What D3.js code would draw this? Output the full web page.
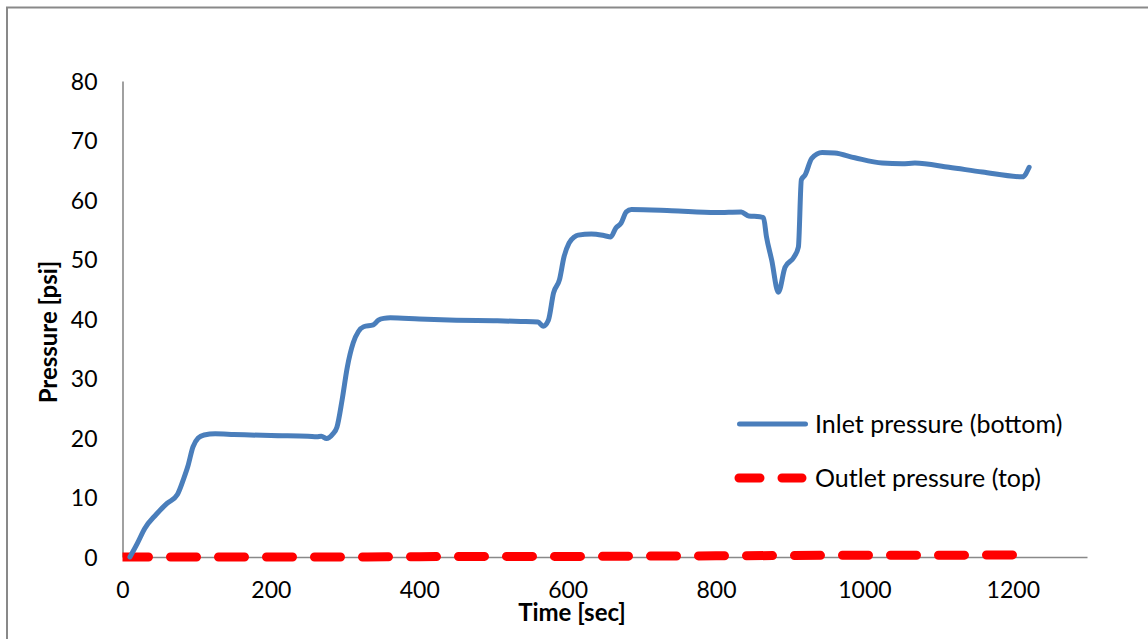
<!DOCTYPE html>
<html>
<head>
<meta charset="utf-8">
<script src="https://cdn.jsdelivr.net/npm/d3@7"></script>
<style>
  html, body { margin: 0; padding: 0; background: #fff; }
  svg { display: block; }
  text { font-family: Lato, "Open Sans", sans-serif; }
</style>
</head>
<body>
<svg id="chart" width="1148" height="639"></svg>
<script>
// ---- data ----
const inletTime = [10, 20, 30, 45, 60, 74, 82, 88, 95, 102, 110, 125, 150, 200, 250, 262, 268, 275, 283, 289, 296, 303, 311, 318, 325, 338, 345, 352, 361, 400, 450, 500, 537, 560, 567, 574, 581, 589, 595, 602, 609, 614, 632, 650, 658, 665, 672, 679, 686, 740, 800, 834, 844, 859, 864, 868, 875, 884, 893, 905, 911, 915, 920, 929, 943, 960, 987, 1024, 1051, 1068, 1114, 1159, 1213, 1222];
const inletPressure = [0, 2.3, 4.8, 7.1, 9.0, 10.5, 13.0, 15.2, 18.5, 20.0, 20.5, 20.7, 20.6, 20.4, 20.3, 20.2, 20.3, 19.9, 20.6, 21.8, 26.4, 31.9, 36.0, 37.9, 38.7, 39.0, 39.8, 40.1, 40.2, 40.0, 39.8, 39.7, 39.6, 39.5, 38.8, 39.8, 44.4, 46.6, 50.4, 52.8, 53.8, 54.1, 54.3, 54.0, 53.8, 55.3, 56.1, 58.0, 58.4, 58.2, 57.9, 58.0, 57.3, 57.2, 57.0, 53.8, 49.9, 44.5, 48.7, 50.4, 52.1, 63.4, 64.2, 67.0, 68.0, 67.9, 67.1, 66.2, 66.1, 66.2, 65.5, 64.7, 63.9, 65.5];
const outletTime = [0, 100, 200, 300, 400, 500, 600, 700, 800, 900, 1000, 1100, 1200, 1218];
const outletPressure = [0, 0, 0, 0, 0.05, 0.1, 0.1, 0.15, 0.2, 0.25, 0.3, 0.3, 0.35, 0.35];
const xTicks = [0, 200, 400, 600, 800, 1000, 1200];
const yTicks = [0, 10, 20, 30, 40, 50, 60, 70, 80];
const seriesNames = ["Inlet pressure (bottom)", "Outlet pressure (top)"];
const xTitle = "Time [sec]";
const yTitle = "Pressure [psi]";

// ---- layout ----
const svg = d3.select("#chart");
const mLeft = 122.5, mRight = 1087, mTop = 81, mBottom = 557;
const x = d3.scaleLinear().domain([0, 1300]).range([mLeft, mRight]);
const y = d3.scaleLinear().domain([0, 80]).range([mBottom, mTop]);
const axisColor = "#898989";

// outer chart border (clipped by page on right/bottom)
svg.append("rect").attr("x", 7).attr("y", 7.5).attr("width", 1160).attr("height", 660)
  .attr("fill", "none").attr("stroke", axisColor).attr("stroke-width", 2);

// axes
const xAxis = svg.append("g").attr("transform", `translate(0,${mBottom})`)
  .call(d3.axisBottom(x).tickValues(xTicks).tickSize(0).tickPadding(0).tickFormat(d3.format("d")));
xAxis.select(".domain").attr("stroke", axisColor).attr("stroke-width", 1.6);
xAxis.selectAll("text").attr("font-size", 23).attr("fill", "#000")
  .attr("dy", null).attr("y", 41);

const yAxis = svg.append("g").attr("transform", `translate(${mLeft},0)`)
  .call(d3.axisLeft(y).tickValues(yTicks).tickSize(0).tickPadding(0).tickFormat(d3.format("d")));
yAxis.select(".domain").attr("stroke", axisColor).attr("stroke-width", 1.6);
yAxis.selectAll("text").attr("font-size", 23).attr("fill", "#000")
  .attr("x", -25).attr("dy", "0.36em");

// clip for series
svg.append("clipPath").attr("id", "plotclip").append("rect")
  .attr("x", mLeft).attr("y", 0).attr("width", 1148 - mLeft).attr("height", 580);

const line = d3.line().x(d => x(d[0])).y(d => y(d[1])).curve(d3.curveMonotoneX);

const g = svg.append("g").attr("clip-path", "url(#plotclip)");
g.append("path")
  .datum(outletTime.map((t, i) => [t, outletPressure[i]]))
  .attr("d", line).attr("fill", "none").attr("stroke", "#ff0000")
  .attr("stroke-width", 9).attr("stroke-linecap", "round")
  .attr("stroke-dasharray", "26,22");
g.append("path")
  .datum(inletTime.map((t, i) => [t, inletPressure[i]]))
  .attr("d", line).attr("fill", "none").attr("stroke", "#4a7ebb")
  .attr("stroke-width", 5).attr("stroke-linecap", "round").attr("stroke-linejoin", "round");

// axis titles
svg.append("text").attr("x", 572).attr("y", 621).attr("text-anchor", "middle")
  .attr("font-size", 24).attr("font-weight", "bold").attr("fill", "#000").text(xTitle);
svg.append("text").attr("transform", "translate(57,332) rotate(-90)").attr("text-anchor", "middle")
  .attr("font-size", 24).attr("font-weight", "bold").attr("fill", "#000").text(yTitle);

// legend
const leg = svg.append("g");
leg.append("line").attr("x1", 739.5).attr("x2", 805.5).attr("y1", 424).attr("y2", 424)
  .attr("stroke", "#4a7ebb").attr("stroke-width", 5).attr("stroke-linecap", "round");
leg.append("text").attr("x", 815).attr("y", 424).attr("dy", "0.35em")
  .attr("font-size", 25).attr("fill", "#000").text(seriesNames[0]);
leg.append("line").attr("x1", 739).attr("x2", 802).attr("y1", 478).attr("y2", 478)
  .attr("stroke", "#ff0000").attr("stroke-width", 9).attr("stroke-linecap", "round")
  .attr("stroke-dasharray", "21,22");
leg.append("text").attr("x", 815).attr("y", 478).attr("dy", "0.35em")
  .attr("font-size", 25).attr("fill", "#000").text(seriesNames[1]);
</script>
</body>
</html>
